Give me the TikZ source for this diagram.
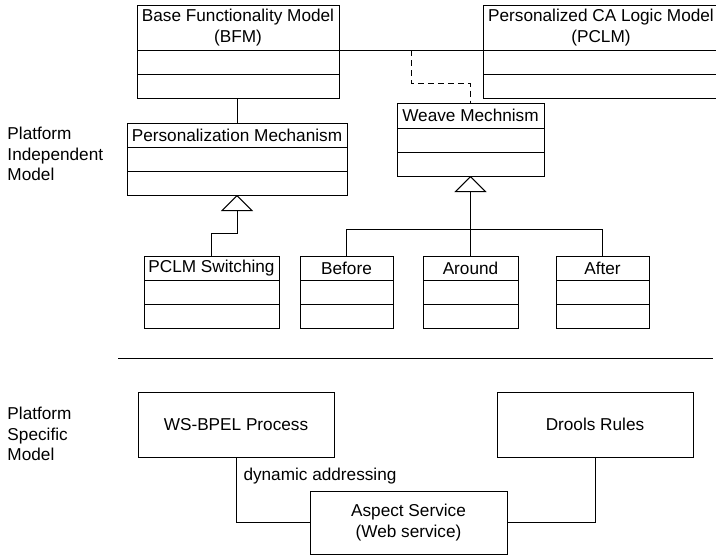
\documentclass[tikz,border=0pt]{standalone}
\usepackage{fontspec}
\setmainfont{Liberation Sans}
\usetikzlibrary{arrows.meta,positioning,calc}
\newcommand{\umlfont}{\fontsize{17.2}{20.5}\selectfont}

\begin{document}
\begin{tikzpicture}[x=1pt,y=-1pt,line width=1pt,
    font=\umlfont,
    classtitle/.style={draw,inner sep=0pt,outer sep=0pt,align=center,minimum height=24pt},
    classrow/.style={draw,inner sep=0pt,outer sep=0pt,minimum height=24pt},
    plainbox/.style={draw,inner sep=0pt,outer sep=0pt,align=center,minimum width=196pt,minimum height=65pt},
    inherit/.style={-{Triangle[open,length=16pt,width=32pt,line width=1pt]}}]
        \useasboundingbox (0,0) rectangle (716,557);
        % platform independent model
        \node[anchor=west,align=left,inner sep=0pt] (pim) at (7,154) {Platform\\Independent\\Model};
        \node[classtitle,anchor=north west,minimum width=202pt,minimum height=45pt] (bfm) at (137,5) {Base Functionality Model\\(BFM)};
        \node[classrow,minimum width=202pt,below=0pt of bfm] (bfm1) {};
        \node[classrow,minimum width=202pt,below=0pt of bfm1] (bfm2) {};
        \node[classtitle,anchor=north west,minimum width=236pt,minimum height=45pt] (pclm) at (483,5) {Personalized CA Logic Model\\(PCLM)};
        \node[classrow,minimum width=236pt,below=0pt of pclm] (pclm1) {};
        \node[classrow,minimum width=236pt,below=0pt of pclm1] (pclm2) {};
        \node[classtitle,anchor=north west,minimum width=220pt] (pm) at (127,123) {Personalization Mechanism};
        \node[classrow,minimum width=220pt,below=0pt of pm] (pm1) {};
        \node[classrow,minimum width=220pt,below=0pt of pm1] (pm2) {};
        \node[classtitle,anchor=north west,minimum width=147pt,minimum height=25pt] (weave) at (397,103) {Weave Mechnism};
        \node[classrow,minimum width=147pt,below=0pt of weave] (weave1) {};
        \node[classrow,minimum width=147pt,below=0pt of weave1] (weave2) {};
        \foreach \name/\x/\w/\txt in {pclmsw/144/135/PCLM Switching,before/300/93/Before,around/423/95/Around,after/556/93/After} {
          \node[classtitle,anchor=north west,minimum width=\w pt] (\name) at (\x,256) {\txt};
          \node[classrow,minimum width=\w pt,below=0pt of \name] (\name1) {};
          \node[classrow,minimum width=\w pt,below=0pt of \name1] (\name2) {};
        }
        \draw (bfm.south east) -- (pclm.south west);
        \coordinate (assoc) at ($(bfm.south east)!0.5!(pclm.south west)$);
        \draw[dashed,dash pattern=on 6pt off 4pt] (assoc) -- ++(0,33) -| (weave.north);
        \draw (pm.north) -- (pm.north |- bfm2.south);
        \draw[inherit] (pclmsw.north) -- ++(0,-23) -| (pm2.south);
        \draw (before.north) -- ++(0,-27) -| (after.north);
        \draw[inherit] (around.north) -- (weave2.south);
        % separator
        \coordinate (sepL) at (118,358);
        \coordinate (sepR) at (713,358);
        \draw (sepL) -- (sepR);
        % platform specific model
        \node[anchor=west,align=left,inner sep=0pt] (psm) at (7,434) {Platform\\Specific\\Model};
        \node[plainbox,anchor=north west] (bpel) at (138,392) {WS-BPEL Process};
        \node[plainbox,anchor=north west] (drools) at (497,392) {Drools Rules};
        \node[plainbox,anchor=north west,minimum width=197pt,minimum height=63pt] (aspect) at (310,491) {Aspect Service\\(Web service)};
        \draw (bpel.south) |- (aspect.west);
        \draw (aspect.east) -| (drools.south);
        \node[anchor=west,inner sep=0pt] (addr) at (243,476) {dynamic addressing};
      \end{tikzpicture}
\end{document}
